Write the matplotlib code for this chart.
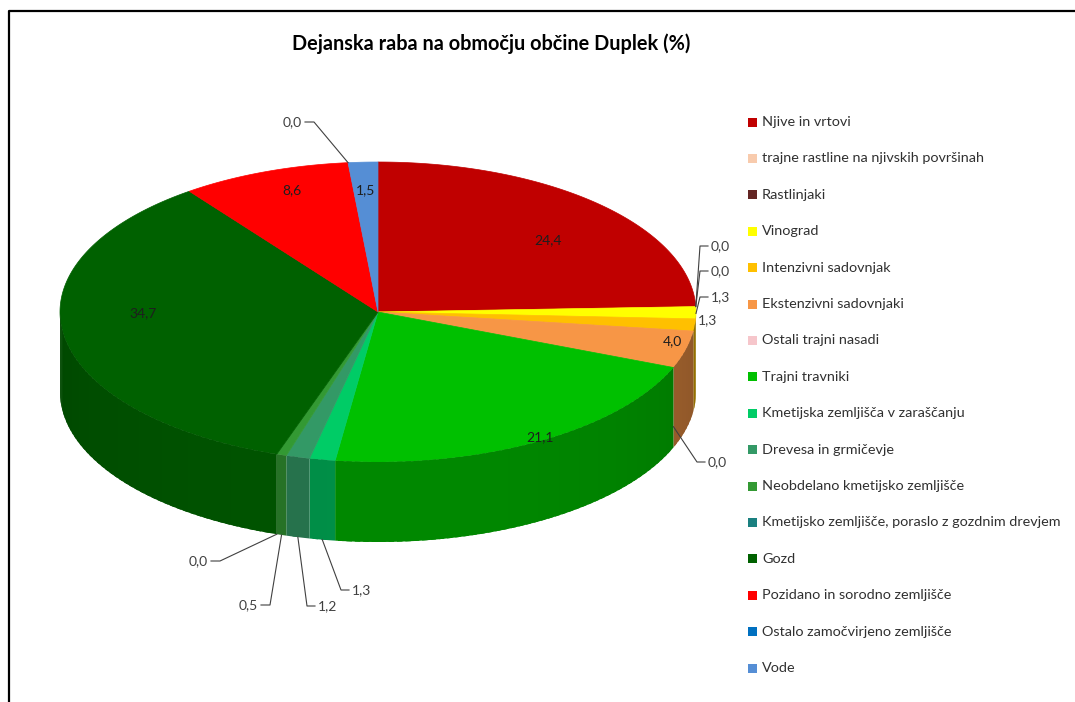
import colorsys
import numpy as np
import matplotlib.pyplot as plt
from matplotlib.patches import Polygon, Rectangle
from matplotlib.colors import to_rgb

plt.rcParams["font.family"] = ["Lato", "DejaVu Sans"]

# Podatki
# -----------------------------------------------------------------------------
kategorije = [
    "Njive in vrtovi",
    "trajne rastline na njivskih površinah",
    "Rastlinjaki",
    "Vinograd",
    "Intenzivni sadovnjak",
    "Ekstenzivni sadovnjaki",
    "Ostali trajni nasadi",
    "Trajni travniki",
    "Kmetijska zemljišča v zaraščanju",
    "Drevesa in grmičevje",
    "Neobdelano kmetijsko zemljišče",
    "Kmetijsko zemljišče, poraslo z gozdnim drevjem",
    "Gozd",
    "Pozidano in sorodno zemljišče",
    "Ostalo zamočvirjeno zemljišče",
    "Vode",
]
delezi = [24.4, 0.0, 0.0, 1.3, 1.3, 4.0, 0.0, 21.1, 1.3, 1.2, 0.5, 0.0, 34.7, 8.6, 0.0, 1.5]
barve = [
    "#c00000", "#f8cbad", "#632523", "#ffff00", "#ffc000", "#f79646",
    "#f6c6cb", "#00c000", "#00cc66", "#339966", "#339933", "#1a8080",
    "#006100", "#ff0000", "#0070c0", "#558ed5",
]
naslov = "Dejanska raba na območju občine Duplek (%)"

# postavitev oznak: (x, y, poravnava, s crto ali brez)
oznake = [
    (548, 240, "center", False),
    (711, 246, "left", True),
    (711, 271, "left", True),
    (711, 297, "left", True),
    (698, 320, "left", False),
    (672, 341, "center", False),
    (708, 462, "left", True),
    (540, 437, "center", False),
    (352, 590, "left", True),
    (318, 606, "left", True),
    (258, 605, "right", True),
    (208, 561, "right", True),
    (143, 313, "center", False),
    (292, 190, "center", False),
    (302, 122, "right", True),
    (366, 190, "center", False),
]

# Geometrija torte (v pikslih)
# -----------------------------------------------------------------------------
CX, CY = 378, 312
RX, RY = 318, 150
GLOBINA = 80
SIVA = "#404040"


def tocka(kot, spodaj=0.0):
    """tocka na robu elipse za kot v stopinjah"""
    r = np.radians(kot)
    return CX + RX * np.cos(r), CY - RY * np.sin(r) + spodaj


def stena(barva, kot):
    """temnejsa barva stranske stene, osvetljena glede na kot"""
    h, s, v = colorsys.rgb_to_hsv(*to_rgb(barva))
    svetloba = 0.85 + 0.15 * max(0.0, -np.sin(np.radians(kot)))
    return colorsys.hsv_to_rgb(h, s, (0.55 * v + 0.12) * svetloba)


fig = plt.figure(figsize=(10.75, 7.02), dpi=100)
ax = fig.add_axes([0, 0, 1, 1])
ax.set_xlim(0, 1075)
ax.set_ylim(702, 0)
ax.axis("off")

# okvir
ax.plot([9, 9, 1075], [702, 11, 11], color="black", lw=1.6, solid_capstyle="butt")

skupaj = sum(delezi)
meje = 90 - 360 * np.concatenate([[0], np.cumsum(delezi)]) / skupaj

for i, d in enumerate(delezi):
    zac, kon = meje[i], meje[i + 1]
    if d <= 0:
        continue
    # zgornja ploskev
    koti = np.linspace(zac, kon, max(2, int(abs(zac - kon) * 2)))
    xs, ys = tocka(koti)
    ax.add_patch(Polygon(np.column_stack([np.r_[CX, xs], np.r_[CY, ys]]),
                         closed=True, fc=barve[i], ec=barve[i], lw=0.5))
    # sprednja stena, v trakovih, ki se malo prekrivajo
    a, b = min(zac, 0), max(kon, -180)
    if a <= b:
        continue
    stopnje = np.linspace(a, b, max(2, int((a - b) / 1.5) + 1))
    for k1, k2 in zip(stopnje[:-1], stopnje[1:]):
        k2b = max(k2 - 1.0, b)
        kk = np.linspace(k1, k2b, 4)
        xs, ys = tocka(kk)
        c = stena(barve[i], 0.5 * (k1 + k2))
        ax.add_patch(Polygon(np.column_stack([np.r_[xs, xs[::-1]],
                                              np.r_[ys, ys[::-1] + GLOBINA]]),
                             closed=True, fc=c, ec="none", lw=0))

# oznake vrednosti
for i, d in enumerate(delezi):
    x, y, ha, crta = oznake[i]
    besedilo = f"{d:.1f}".replace(".", ",")
    barva = SIVA
    if crta:
        sred = 0.5 * (meje[i] + meje[i + 1])
        spodaj = GLOBINA * np.clip(-2 * np.sin(np.radians(sred)), 0, 1)
        ax_, ay_ = tocka(sred, spodaj)
        if ha == "left":
            kx = x - 11
            hx = x - 3
        else:
            kx = x + 12
            hx = x + 3
        ax.plot([ax_, kx, hx], [ay_, y, y], color=SIVA, lw=0.8)
    elif ha == "center":
        barva = "#1e1e1e"
    ax.text(x, y, besedilo, ha=ha, va="center", fontsize=10, color=barva)

# naslov
ax.text(491, 44, naslov, ha="center", va="center", fontsize=14.3,
        fontweight="bold", color="black")

# legenda
for i, ime in enumerate(kategorije):
    y = 122 + i * 36.4
    ax.add_patch(Rectangle((748, y - 4.5), 9, 9, fc=barve[i], ec="none"))
    ax.text(762, y, ime, ha="left", va="center", fontsize=10.4, color="#303030")

fig.savefig("out.png", dpi=100)
